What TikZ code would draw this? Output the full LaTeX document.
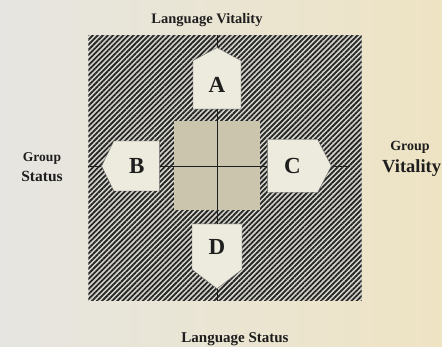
\documentclass[tikz,border=0pt]{standalone}
\usepackage{fontspec}
\setmainfont{Liberation Serif}
\usepackage{xcolor}
\usetikzlibrary{positioning,shapes.symbols,patterns.meta}

\definecolor{paperL}{HTML}{E6E5E1}
\definecolor{paperR}{HTML}{EEE4C4}
\definecolor{hatchbase}{HTML}{D6D5CD}
\definecolor{tab}{HTML}{EDEBDD}
\definecolor{core}{HTML}{CBC5AD}
\definecolor{ink}{HTML}{1E1E1E}

\begin{document}
\begin{tikzpicture}[
        x=1pt, y=-1pt,
        lbl/.style={font=\bfseries, text=ink, align=center, inner sep=0pt},
        tabbox/.style={signal, draw=black!60, fill=tab, text=ink, inner sep=0pt,
            font=\bfseries\fontsize{23}{23}\selectfont},
        axis/.style={draw=ink, line width=0.9pt},
        tick/.style={draw=ink, line width=0.7pt}
    ]
    \useasboundingbox (0,0) rectangle (442,347);
    \shade[left color=paperL, right color=paperR] (0,0) rectangle (442,347);

    % hatched field and the light core
    \node[fill=hatchbase, minimum width=273pt, minimum height=265pt, inner sep=0pt] (field) at (225,168) {};
    \fill[pattern={Lines[angle=45, distance=3.6pt, line width=1.8pt]}, pattern color=black!85]
        (field.south west) rectangle (field.north east);
    \node[fill=core, minimum width=86pt, minimum height=89pt, inner sep=0pt] (core) at (217,166) {};

    % the four tabs
    \node[tabbox, signal to=north, signal pointer angle=123, minimum width=48pt, minimum height=53pt,
        above=12pt of core] (A) {A};
    \node[tabbox, signal to=south, signal pointer angle=105, minimum width=50pt, minimum height=52pt,
        below=13pt of core] (D) {D};
    \node[tabbox, signal to=west, signal pointer angle=128, minimum width=58pt, minimum height=50pt,
        left=14pt of core] (B) {B};
    \node[tabbox, signal to=east, signal pointer angle=125, minimum width=64pt, minimum height=53pt,
        right=7pt of core] (C) {C};

    % cross through the core
    \draw[axis] (A.south) -- (D.north);
    \draw[axis] (B.east) -- (C.west);

    % ends out to the field edge
    \coordinate (topEnd) at (A.north |- field.north);
    \coordinate (botEnd) at (D.south |- field.south);
    \coordinate (leftEnd) at (B.west -| field.west);
    \coordinate (rightEnd) at ([xshift=-12pt]C.east -| field.east);
    \draw[tick] (A.north) -- (topEnd);
    \draw[tick] (D.south) -- (botEnd);
    \draw[tick] (B.west) -- (leftEnd);
    \draw[tick] (C.east) -- (rightEnd);

    % axis labels
    \node[lbl, font=\bfseries\fontsize{14.5}{15}\selectfont] (lv) at (207,20) {Language Vitality};
    \node[lbl, font=\bfseries\fontsize{15}{15}\selectfont] (ls) at (235,339) {Language Status};
    \node[lbl, font=\bfseries\fontsize{15.5}{20}\selectfont] (gs) at (42,167) {{\fontsize{13.5}{15}\selectfont Group}\\Status};
    \node[lbl, font=\bfseries\fontsize{14}{15}\selectfont] (gv1) at (410,147) {Group};
    \node[lbl, font=\bfseries\fontsize{18.5}{20}\selectfont, anchor=west] (gv2) at (382,168) {Vitality};
\end{tikzpicture}
\end{document}
